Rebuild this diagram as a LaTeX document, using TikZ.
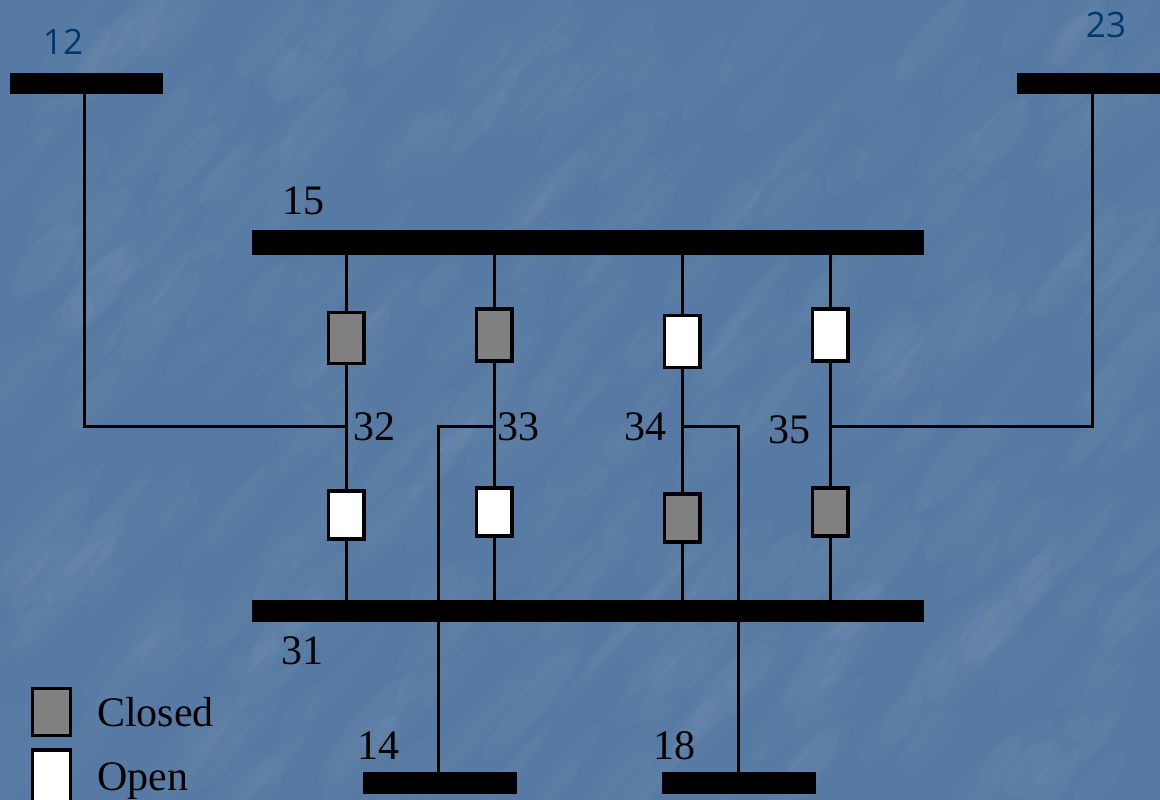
\documentclass[tikz,border=0pt]{standalone}
\usepackage{fontspec}
\setmainfont{Liberation Serif}
\newfontfamily\labelfont{Open Sans}
\definecolor{slide}{RGB}{86,122,163}
\definecolor{busname}{RGB}{0,56,110}
\definecolor{closedgray}{RGB}{128,128,128}
\tikzset{
    bus/.style={draw=none,fill=black,inner sep=0pt,minimum width=#1},
    swbox/.style={draw=black,line width=3.2pt,inner sep=0pt,minimum width=35.8pt},
    closedsw/.style={swbox,fill=closedgray},
    opensw/.style={swbox,fill=white},
    wire/.style={line width=3pt,black},
    num/.style={font=\fontsize{42}{42}\selectfont,text=black,inner sep=0pt},
    busnum/.style={font=\labelfont\fontsize{35}{35}\selectfont,text=busname,inner sep=0pt}
}
\begin{document}
\begin{tikzpicture}[x=1pt,y=-1pt]
    \useasboundingbox (0,0) rectangle (1160,800);
    \clip (0,0) rectangle (1160,800);
    \fill[slide] (0,0) rectangle (1160,800);
    % mottled background
    \pgfmathsetseed{7}
    \foreach \i in {1,...,420}{
    \pgfmathsetmacro{\px}{random(0,1160)}
    \pgfmathsetmacro{\py}{random(0,800)}
    \pgfmathsetmacro{\len}{random(25,80)}
    \pgfmathsetmacro{\wid}{random(6,20)}
    \fill[white,opacity=0.02,rotate around={50:(\px,\py)}] (\px,\py) ellipse ({\len pt} and {\wid pt});
    }
    % buses
    \node[bus=153pt,minimum height=21pt] (b12) at (86.5,83.5) {};
    \node[bus=143pt,minimum height=21pt] (b23) at (1088.5,83.5) {};
    \node[bus=672pt,minimum height=25pt] (b15) at (588,242.5) {};
    \node[bus=672pt,minimum height=22pt] (b31) at (588,611) {};
    \node[bus=154pt,minimum height=22pt] (b14) at (440,783) {};
    \node[bus=154pt,minimum height=22pt] (b18) at (739,783) {};
    % switches and the wires through them
    \foreach \n/\x/\ya/\yb/\sa/\sb/\ha/\hb in {
        32/346/338/515/closedsw/opensw/51/48,
        33/494/335/512/closedsw/opensw/52/48,
        34/682/341.5/518/opensw/closedsw/52/48,
        35/830/335/512/opensw/closedsw/52/48}{
    \node[\sa,minimum height=\ha pt] (t\n) at (\x,\ya) {};
    \node[\sb,minimum height=\hb pt] (u\n) at (\x,\yb) {};
    \coordinate (j\n) at (\x,426);
    \draw[wire] (b15.south -| j\n) -- (t\n.north);
    \draw[wire] ([yshift=3pt]t\n.south) -- (j\n) -- (u\n.north);
    \draw[wire] (u\n.south) -- (b31.north -| j\n);
    }
    % feeders
    \coordinate (c12) at (84,426);
    \coordinate (c23) at (1092,426);
    \coordinate (c14) at (438.5,426);
    \coordinate (c18) at (738,426);
    \draw[wire] (b12.south -| c12) -- (c12) -- (j32);
    \draw[wire] (b23.south -| c23) -- (c23) -- (j35);
    \draw[wire] (j33) -- (c14) -- (b14.north -| c14);
    \draw[wire] (j34) -- (c18) -- (b18.north -| c18);
    % labels
    \node[num] (n32) at (374,427) {32};
    \node[num] (n33) at (518,427) {33};
    \node[num] (n34) at (645,427) {34};
    \node[num] (n35) at (789,430) {35};
    \node[num] (n15) at (303,201) {15};
    \node[num] (n31) at (302,651) {31};
    \node[num] (n14) at (378,746) {14};
    \node[num] (n18) at (674,746) {18};
    \node[busnum] (n12) at (63,42) {12};
    \node[busnum] (n23) at (1106,25) {23};
    % legend
    \node[closedsw,minimum width=38pt,minimum height=47pt] (kc) at (51.5,712) {};
    \node[opensw,minimum width=38pt,minimum height=56pt] (ko) at (51.5,778) {};
    \node[num,anchor=base west] (tc) at (97,726) {Closed};
    \node[num,anchor=base west] (to) at (97,790) {Open};
\end{tikzpicture}
\end{document}
